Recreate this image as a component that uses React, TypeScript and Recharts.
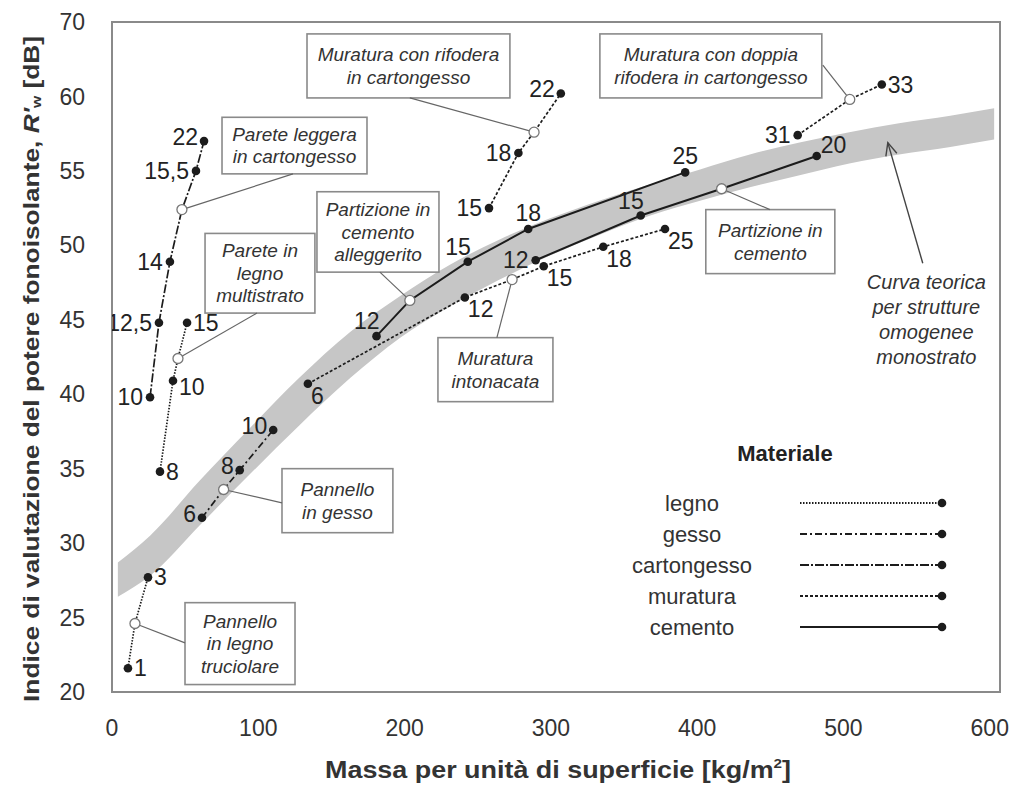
import { ComposedChart, Area, Scatter, XAxis, YAxis, ReferenceArea, ReferenceLine, Legend } from 'recharts';

const FONT = '"Liberation Sans", Arial, Helvetica, sans-serif';
const INK = '#1c1c1c';
const GREY = '#8a8a8a';

// axes
const xTicks = [0, 100, 200, 300, 400, 500, 600];
const yTicks = [20, 25, 30, 35, 40, 45, 50, 55, 60, 65];
const yTickLabels = ['20', '25', '30', '35', '40', '45', '50', '55', '60', '70'];

// theoretical curve band (lower / upper edge)
const bandMass = [4, 26, 60, 94, 128, 163, 197, 231, 265, 299, 333, 368, 402, 436, 470, 504, 538, 573, 603];
const bandLow = [26.4, 27.8, 31.2, 34.6, 37.9, 41.1, 43.8, 45.9, 47.7, 49.3, 50.7, 52.0, 53.0, 53.9, 54.7, 55.5, 56.1, 56.6, 57.1];
const bandHigh = [28.7, 30.5, 34.2, 37.7, 41.1, 44.2, 46.6, 48.7, 50.4, 51.8, 53.0, 54.1, 55.1, 56.1, 56.9, 57.6, 58.2, 58.7, 59.2];

// measured walls: mass [kg/m2], R'w [dB], thickness label (null = callout point)
const truciolareM = [10.9, 15.7, 24.6];
const truciolareR = [21.6, 24.6, 27.7];
const truciolareT = ['1', null, '3'];

const multistratoM = [32.8, 41.7, 45.1, 51.3];
const multistratoR = [34.8, 40.9, 42.4, 44.8];
const multistratoT = ['8', '10', null, '15'];

const leggeraM = [26.0, 32.1, 39.6, 47.8, 57.4, 62.9];
const leggeraR = [39.8, 44.8, 48.9, 52.4, 55.0, 57.0];
const leggeraT = ['10', '12,5', '14', null, '15,5', '22'];

const gessoM = [61.5, 76.3, 87.3, 110.2];
const gessoR = [31.7, 33.6, 34.9, 37.6];
const gessoT = ['6', null, '8', '10'];

const intonacataM = [133.9, 241.2, 273.5, 295.1, 335.8, 378.0];
const intonacataR = [40.7, 46.5, 47.7, 48.6, 49.9, 51.1];
const intonacataT = ['6', '12', null, '15', '18', '25'];

const alleggeritoM = [180.8, 203.6, 243.2, 284.5, 391.8];
const alleggeritoR = [43.9, 46.3, 48.9, 51.1, 54.9];
const alleggeritoT = ['12', null, '15', '18', '25'];

const cementoM = [289.6, 361.4, 416.7, 481.7];
const cementoR = [49.0, 52.0, 53.8, 56.0];
const cementoT = ['12', '15', null, '20'];

const rifoderaM = [257.7, 277.8, 288.5, 306.8];
const rifoderaR = [52.5, 56.2, 57.6, 60.2];
const rifoderaT = ['15', '18', null, '22'];

const doppiaM = [468.7, 504.3, 526.2];
const doppiaR = [57.4, 59.8, 60.8];
const doppiaT = ['31', null, '33'];

// where each thickness label sits relative to its point
const truciolareSide = ['r', '', 'r'];
const multistratoSide = ['r', 'rd', '', 'r'];
const leggeraSide = ['l', 'l', 'l', '', 'l', 'lu'];
const gessoSide = ['lu', '', 'lu', 'lu'];
const intonacataSide = ['br', 'br', '', 'br', 'br', 'br'];
const alleggeritoSide = ['tl', '', 'tl', 't', 't'];
const cementoSide = ['l', 'tl', '', 'tr'];
const rifoderaSide = ['l', 'l', '', 'lu'];
const doppiaSide = ['l', '', 'r'];

const materials = ['legno', 'gesso', 'cartongesso', 'muratura', 'cemento'];
const DASH: Record<string, string | undefined> = {
  legno: '1.5 1.5',
  gesso: '7 3 2 3',
  cartongesso: '9 2 2 2',
  muratura: '3 2',
  cemento: undefined,
};

const SIDE: Record<string, [number, number, 'start' | 'middle' | 'end']> = {
  r: [6, 8, 'start'],
  rd: [6, 14, 'start'],
  l: [-7, 8, 'end'],
  lu: [-6, 4, 'end'],
  br: [3, 20, 'start'],
  t: [0, -8, 'middle'],
  tl: [3, -7, 'end'],
  tr: [4, -3, 'start'],
};

const build = (m: number[], r: number[], t: (string | null)[], s: string[]) =>
  m.map((x, i) => ({ x, y: r[i], t: t[i], s: s[i] }));

const series = [
  { name: 'truciolare', mat: 'legno', data: build(truciolareM, truciolareR, truciolareT, truciolareSide) },
  { name: 'multistrato', mat: 'legno', data: build(multistratoM, multistratoR, multistratoT, multistratoSide) },
  { name: 'leggera', mat: 'cartongesso', data: build(leggeraM, leggeraR, leggeraT, leggeraSide) },
  { name: 'gesso', mat: 'gesso', data: build(gessoM, gessoR, gessoT, gessoSide) },
  { name: 'intonacata', mat: 'muratura', data: build(intonacataM, intonacataR, intonacataT, intonacataSide) },
  { name: 'alleggerito', mat: 'cemento', data: build(alleggeritoM, alleggeritoR, alleggeritoT, alleggeritoSide) },
  { name: 'cemento', mat: 'cemento', data: build(cementoM, cementoR, cementoT, cementoSide) },
  { name: 'rifodera', mat: 'muratura', data: build(rifoderaM, rifoderaR, rifoderaT, rifoderaSide) },
  { name: 'doppia', mat: 'muratura', data: build(doppiaM, doppiaR, doppiaT, doppiaSide) },
];

// callout boxes: [x1, x2, y1, y2] in chart units, leader from -> to
const notes = [
  { lines: ['Muratura con rifodera', 'in cartongesso'], box: [133.3, 272.0, 59.9, 64.2], from: [203.6, 59.9], to: [288.5, 57.6] },
  { lines: ['Muratura con doppia', 'rifodera in cartongesso'], box: [333.5, 485.2, 59.9, 64.2], from: [485.9, 62.1], to: [504.3, 59.8] },
  { lines: ['Parete leggera', 'in cartongesso'], box: [75.2, 174.3, 54.8, 58.6], from: [123.7, 54.8], to: [47.8, 52.4] },
  { lines: ['Partizione in', 'cemento', 'alleggerito'], box: [140.1, 223.5, 48.2, 53.6], from: [183.1, 48.2], to: [203.6, 46.3] },
  { lines: ['Parete in', 'legno', 'multistrato'], box: [63.6, 138.7, 45.45, 50.8], from: [99.1, 45.45], to: [45.1, 42.4] },
  { lines: ['Pannello', 'in gesso'], box: [116.2, 192.0, 30.7, 35.0], from: [116.2, 32.7], to: [76.3, 33.6] },
  { lines: ['Pannello', 'in legno', 'truciolare'], box: [49.9, 125.1, 20.5, 26.0], from: [49.9, 23.3], to: [15.7, 24.6] },
  { lines: ['Muratura', 'intonacata'], box: [222.8, 301.4, 39.5, 43.8], from: [263.1, 43.8], to: [273.5, 47.7] },
  { lines: ['Partizione in', 'cemento'], box: [405.9, 494.1, 48.1, 52.4], from: [449.7, 52.4], to: [416.7, 53.8] },
];
const curveNote = { lines: ['Curva teorica', 'per strutture', 'omogenee', 'monostrato'], box: [507.8, 605.5, 41.5, 48.5], from: [554.2, 48.8], to: [530.3, 56.9] };

const bandData = bandMass.map((x, i) => ({ x, band: [bandLow[i], bandHigh[i]] }));

const pointShape = (props: any) => {
  const { cx, cy, payload } = props;
  if (payload.t == null) {
    return <circle cx={cx} cy={cy} r={5} fill="#fff" stroke="#777" strokeWidth={1.3} />;
  }
  const [dx, dy, anchor] = SIDE[payload.s] || SIDE.r;
  return (
    <g>
      <circle cx={cx} cy={cy} r={4.3} fill={INK} />
      <text x={cx + dx} y={cy + dy} textAnchor={anchor} fontSize={23} fill="#222" fontFamily={FONT}>
        {payload.t}
      </text>
    </g>
  );
};

const noteShape = (lines: string[], framed: boolean, size: number, gap: number) => (p: any) => {
  const cx = p.x + p.width / 2;
  const cy = p.y + p.height / 2;
  const y0 = cy - ((lines.length - 1) * gap) / 2 + size * 0.35;
  return (
    <g>
      {framed && <rect x={p.x} y={p.y} width={p.width} height={p.height} fill="#fff" stroke={GREY} strokeWidth={1.6} />}
      <text textAnchor="middle" fontStyle="italic" fontSize={size} fill="#333" fontFamily={FONT}>
        {lines.map((l, i) => (
          <tspan key={i} x={cx} y={y0 + i * gap}>{l}</tspan>
        ))}
      </text>
    </g>
  );
};

const arrowShape = (p: any) => {
  const { x1, y1, x2, y2 } = p;
  const a = Math.atan2(y2 - y1, x2 - x1);
  const h = 14;
  const w = 0.42;
  return (
    <g stroke="#444" strokeWidth={1.4} fill="none">
      <line x1={x1} y1={y1} x2={x2} y2={y2} />
      <polyline
        points={`${x2 - h * Math.cos(a - w)},${y2 - h * Math.sin(a - w)} ${x2},${y2} ${x2 - h * Math.cos(a + w)},${y2 - h * Math.sin(a + w)}`}
      />
    </g>
  );
};

const MaterialLegend = () => (
  <svg width={400} height={230} style={{ display: 'block', overflow: 'visible' }}>
    <text x={185} y={36} textAnchor="middle" fontWeight="bold" fontSize={22} fill="#222" fontFamily={FONT}>
      Materiale
    </text>
    {materials.map((m, i) => {
      const y = 78 + i * 31;
      return (
        <g key={m}>
          <text x={92} y={y + 8} textAnchor="middle" fontSize={22} fill="#333" fontFamily={FONT}>{m}</text>
          <line x1={200} x2={342} y1={y} y2={y} stroke={INK} strokeWidth={1.8} strokeDasharray={DASH[m]} />
          <circle cx={342} cy={y} r={4.3} fill={INK} />
        </g>
      );
    })}
  </svg>
);

const XTitle = (props: any) => {
  const { x, y, width } = props.viewBox;
  return (
    <text
      x={x + width / 2 + 2}
      y={y + 86}
      textAnchor="middle"
      fontWeight="bold"
      fontSize={23}
      fill="#333"
      fontFamily={FONT}
      textLength={466}
      lengthAdjust="spacingAndGlyphs"
    >
      Massa per unità di superficie [kg/m<tspan fontSize={13} dy={-10}>2</tspan><tspan dy={10}>]</tspan>
    </text>
  );
};

const YTitle = (props: any) => {
  const { x, y, height } = props.viewBox;
  const cx = x - 21;
  const cy = y + height / 2 + 12;
  return (
    <text
      x={cx}
      y={cy}
      transform={`rotate(-90, ${cx}, ${cy})`}
      textAnchor="middle"
      dominantBaseline="central"
      fontWeight="bold"
      fontSize={22}
      fill="#333"
      fontFamily={FONT}
      textLength={666}
      lengthAdjust="spacingAndGlyphs"
    >
      Indice di valutazione del potere fonoisolante, <tspan fontStyle="italic">R'</tspan>
      <tspan fontSize={13} dy={5}>w</tspan>
      <tspan dy={-5}> [dB]</tspan>
    </text>
  );
};

export default function App() {
  return (
    <div style={{ position: 'absolute', left: 0, top: 0, background: '#fff' }}>
      <ComposedChart width={1029} height={789} data={bandData} margin={{ top: 22, right: 29, bottom: 37, left: 52 }}>
        <XAxis
          type="number"
          dataKey="x"
          domain={[0, 607]}
          ticks={xTicks}
          interval={0}
          allowDataOverflow
          axisLine={false}
          tickLine={false}
          tickSize={0}
          tickMargin={28}
          height={60}
          tick={{ fontSize: 23, fill: '#333', fontFamily: FONT }}
          label={<XTitle />}
        />
        <YAxis
          type="number"
          dataKey="y"
          domain={[20, 65]}
          ticks={yTicks}
          interval={0}
          allowDataOverflow
          axisLine={false}
          tickLine={false}
          tickSize={0}
          tickMargin={27}
          width={60}
          tick={{ fontSize: 23, fill: '#333', fontFamily: FONT }}
          tickFormatter={(v: number) => yTickLabels[yTicks.indexOf(v)] ?? String(v)}
          label={<YTitle />}
        />
        <Area
          dataKey="band"
          type="monotone"
          stroke="none"
          fill="#c6c6c6"
          fillOpacity={1}
          isAnimationActive={false}
          activeDot={false}
        />
        <ReferenceArea x1={0} x2={607} y1={20} y2={65} fill="none" stroke={GREY} strokeWidth={2} ifOverflow="visible" />
        {notes.map((n, i) => (
          <ReferenceLine
            key={`c${i}`}
            segment={[{ x: n.from[0], y: n.from[1] }, { x: n.to[0], y: n.to[1] }]}
            stroke="#666"
            strokeWidth={1.2}
            ifOverflow="visible"
          />
        ))}
        <ReferenceLine
          segment={[{ x: curveNote.from[0], y: curveNote.from[1] }, { x: curveNote.to[0], y: curveNote.to[1] }]}
          shape={arrowShape}
          ifOverflow="visible"
        />
        {notes.map((n, i) => (
          <ReferenceArea
            key={`b${i}`}
            x1={n.box[0]}
            x2={n.box[1]}
            y1={n.box[2]}
            y2={n.box[3]}
            ifOverflow="visible"
            shape={noteShape(n.lines, true, 19, 22.5)}
          />
        ))}
        <ReferenceArea
          x1={curveNote.box[0]}
          x2={curveNote.box[1]}
          y1={curveNote.box[2]}
          y2={curveNote.box[3]}
          ifOverflow="visible"
          shape={noteShape(curveNote.lines, false, 20, 25)}
        />
        {series.map((s) => (
          <Scatter
            key={s.name}
            name={s.name}
            data={s.data}
            fill={INK}
            line={{ stroke: INK, strokeWidth: s.mat === 'cemento' ? 2 : 1.7, strokeDasharray: DASH[s.mat] }}
            lineType="joint"
            shape={pointShape}
            isAnimationActive={false}
          />
        ))}
        <Legend
          layout="vertical"
          align="center"
          verticalAlign="middle"
          content={<MaterialLegend />}
          wrapperStyle={{ left: 600, top: 425, width: 400, height: 230 }}
        />
      </ComposedChart>
    </div>
  );
}
